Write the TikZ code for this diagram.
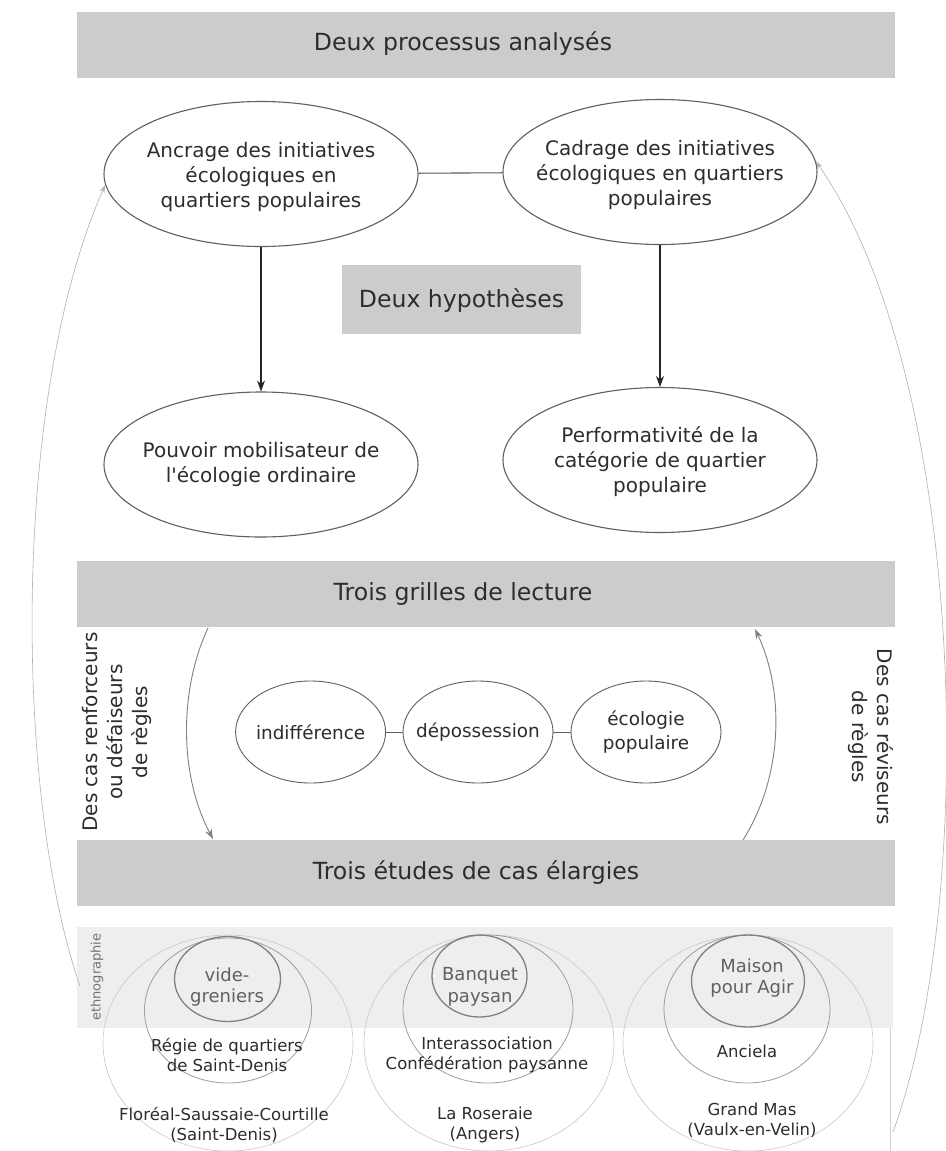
\documentclass[tikz,border=0pt]{standalone}
\usepackage{fontspec}
\setmainfont{DejaVu Sans}
\usetikzlibrary{shapes.geometric,arrows.meta}
\definecolor{bannergray}{RGB}{204,204,204}
\definecolor{bandgray}{RGB}{238,238,238}
\definecolor{edgegray}{RGB}{95,95,95}
\definecolor{txtgray}{RGB}{45,45,45}
\begin{document}
\begin{tikzpicture}[x=1pt,y=-1pt,
  banner/.style={fill=bannergray, draw=none, minimum width=818pt, minimum height=66pt, inner sep=0pt},
  bigtext/.style={font=\fontsize{23.6}{28}\selectfont, text=txtgray, inner sep=0pt},
  bigell/.style={ellipse, draw=edgegray, line width=1.1pt, minimum width=314pt, minimum height=145pt, inner sep=0pt},
  elltext/.style={font=\fontsize{20}{25}\selectfont, text=txtgray, align=center, inner sep=0pt},
  smallell/.style={ellipse, draw=edgegray, line width=0.9pt, minimum width=150pt, minimum height=102pt, inner sep=0pt},
  smalltext/.style={font=\fontsize{18.4}{24}\selectfont, text=txtgray, align=center, inner sep=0pt},
  outerc/.style={ellipse, draw=black!22, line width=0.6pt, minimum width=250pt, minimum height=216pt, inner sep=0pt},
  midc/.style={ellipse, draw=black!38, line width=0.8pt, inner sep=0pt},
  innerc/.style={ellipse, draw=black!50, line width=1.3pt, inner sep=0pt},
  casetext/.style={font=\fontsize{16.5}{20}\selectfont, text=txtgray, align=center, inner sep=0pt},
  innertext/.style={font=\fontsize{18}{21.5}\selectfont, text=black!62, align=center, inner sep=0pt},
  blackarrow/.style={-{Stealth[length=11pt,width=8pt]}, draw=black!85, line width=1.1pt},
  grayarrow/.style={-{Stealth[length=10pt,width=7pt]}, draw=black!50, line width=0.9pt},
  lightarrow/.style={-{Stealth[length=8pt,width=5pt]}, draw=black!30, line width=0.6pt},
  rottext/.style={font=\fontsize{20}{25}\selectfont, text=txtgray, align=center, inner sep=0pt},
]
\useasboundingbox[fill=white] (0,0) rectangle (945,1151);

% banners
\node[banner] (B1) at (486,45) {};
\node[bigtext] (B1t) at (463,44) {Deux processus analysés};
\node[banner] (B2) at (486,594) {};
\node[bigtext] (B2t) at (463,594) {Trois grilles de lecture};
\node[banner] (B3) at (486,873) {};
\node[bigtext] (B3t) at (476,873) {Trois études de cas élargies};

% hypotheses box
\node[fill=bannergray, minimum width=239pt, minimum height=69pt, inner sep=0pt] (H) at (461.5,299.5) {};
\node[bigtext] (Ht) at (461.5,301) {Deux hypothèses};

% big ellipses
\node[bigell] (A) at (261,174) {};
\node[elltext] (At) at (261,177) {Ancrage des initiatives\\écologiques en\\quartiers populaires};
\node[bigell] (C) at (660,172) {};
\node[elltext] (Ct) at (660,175) {Cadrage des initiatives\\écologiques en quartiers\\populaires};
\node[bigell] (P) at (261,464.5) {};
\node[elltext] (Pt) at (261,464) {Pouvoir mobilisateur de\\l\textquotesingle écologie ordinaire};
\node[bigell] (F) at (660,460) {};
\node[elltext] (Ft) at (660,462) {Performativité de la\\catégorie de quartier\\populaire};

\draw[draw=edgegray, line width=1.1pt] (A) -- (C);
\draw[blackarrow] (A.south) -- (P.north);
\draw[blackarrow] (C.south) -- (F.north);

% small ellipses
\node[smallell] (I) at (310.6,732) {};
\node[smalltext] (It) at (310.6,732) {indifférence};
\node[smallell] (D) at (478,732) {};
\node[smalltext] (Dt) at (478,732) {dépossession};
\node[smallell] (EP) at (646,732) {};
\node[smalltext] (EPt) at (646,732) {écologie\\populaire};
\draw[draw=edgegray, line width=0.9pt] (I) -- (D);
\draw[draw=edgegray, line width=0.9pt] (D) -- (EP);

% rotated labels
\node[rottext, rotate=90] (Lt) at (117,732) {Des cas renforceurs\\ou défaiseurs\\de règles};
\node[rottext, rotate=-90] (Rt) at (871,737) {Des cas réviseurs\\de règles};

% inner curved arrows
\coordinate (l1) at (208,628);
\coordinate (l2) at (213,839);
\coordinate (r1) at (743,840);
\coordinate (r2) at (755,629);
\draw[grayarrow] (l1) .. controls (179,690) and (179,775) .. (l2);
\draw[grayarrow] (r1) .. controls (784,775) and (784,690) .. (r2);

% ethnographie band
\node[fill=bandgray, minimum width=816pt, minimum height=101pt, inner sep=0pt] (E) at (485,977.5) {};
\node[font=\fontsize{13}{13}\selectfont, text=black!55, rotate=90, inner sep=0pt] (Et) at (97,977) {ethnographie};
\coordinate (v1) at (890,1028);
\coordinate (v2) at (890,1151);
\draw[draw=black!18, line width=0.8pt] (v1) -- (v2);

% case study circles
\node[outerc] (O1) at (228,1043) {};
\node[midc, minimum width=167pt, minimum height=145pt] (M1) at (228,1010.5) {};
\node[innerc, minimum width=106pt, minimum height=85pt] (N1) at (227.5,979) {};
\node[innertext] (N1t) at (227,987) {vide-\\greniers};
\node[casetext] (M1t) at (227,1055) {Régie de quartiers\\de Saint-Denis};
\node[casetext] (O1t) at (224,1125) {Floréal-Saussaie-Courtille\\(Saint-Denis)};

\node[outerc] (O2) at (489,1043) {};
\node[midc, minimum width=170pt, minimum height=148pt] (M2) at (488,1009) {};
\node[innerc, minimum width=95pt, minimum height=82pt] (N2) at (479.5,976) {};
\node[innertext] (N2t) at (480,987) {Banquet\\paysan};
\node[casetext] (M2t) at (487,1055) {Interassociation\\Confédération paysanne};
\node[casetext] (O2t) at (485,1125) {La Roseraie\\(Angers)};

\node[outerc] (O3) at (748,1043) {};
\node[midc, minimum width=166pt, minimum height=148pt] (M3) at (747,1009) {};
\node[innerc, minimum width=113pt, minimum height=92pt] (N3) at (748,981) {};
\node[innertext] (N3t) at (752,978) {Maison\\pour Agir};
\node[casetext] (M3t) at (747,1051) {Anciela};
\node[casetext] (O3t) at (752,1120) {Grand Mas\\(Vaulx-en-Velin)};

% large return arrows
\coordinate (gl) at (80,986);
\coordinate (gr) at (893,1132);
\draw[lightarrow] (gl) .. controls (15,800) and (10,400) .. (A.184);
\draw[lightarrow] (gr) .. controls (978,900) and (968,380) .. (C.4);
\end{tikzpicture}
\end{document}
